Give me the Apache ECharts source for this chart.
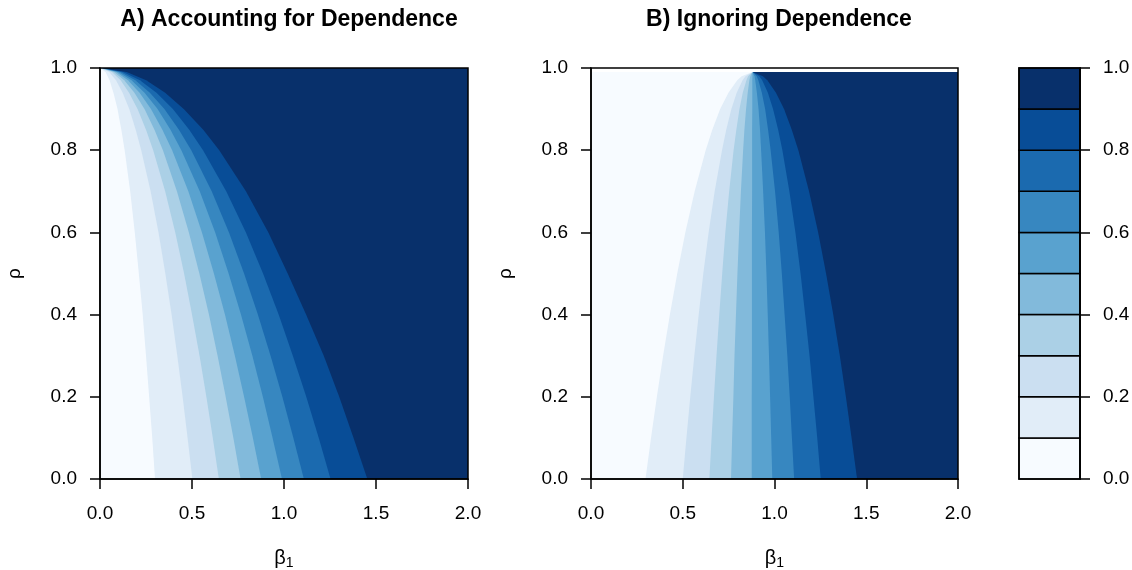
<!DOCTYPE html>
<html>
<head>
<meta charset="utf-8">
<script src="https://cdn.jsdelivr.net/npm/echarts@6/dist/echarts.min.js"></script>
<style>
  html, body { margin: 0; padding: 0; background: #fff; }
  #chart { width: 1132px; height: 570px; }
</style>
</head>
<body>
<div id="chart"></div>
<script>
// colour key breaks and colours (Blues, 10 bands)
const levels = [0.0, 0.1, 0.2, 0.3, 0.4, 0.5, 0.6, 0.7, 0.8, 0.9, 1.0];
const blues = ['#F7FBFF', '#E1EDF8', '#CBDFF1', '#ABD0E6', '#82BADB', '#59A2CF', '#3787C0', '#1B6AAF', '#084D97', '#08306B'];
const xTicks = [0.0, 0.5, 1.0, 1.5, 2.0];
const yTicks = [0.0, 0.2, 0.4, 0.6, 0.8, 1.0];
const titles = ['A) Accounting for Dependence', 'B) Ignoring Dependence'];

// panel A: beta1 where the surface crosses 0.1 ... 0.9, read at each rho
const rhoA = [0, 0.1, 0.2, 0.3, 0.4, 0.5, 0.6, 0.7, 0.8, 0.85, 0.9, 0.94, 0.97, 0.99, 1.0];
const contourA = [
  [0.299, 0.284, 0.267, 0.250, 0.232, 0.211, 0.189, 0.164, 0.134, 0.116, 0.095, 0.073, 0.052, 0.030, 0],
  [0.502, 0.476, 0.449, 0.420, 0.389, 0.355, 0.318, 0.275, 0.224, 0.194, 0.159, 0.123, 0.087, 0.050, 0],
  [0.646, 0.613, 0.578, 0.541, 0.500, 0.457, 0.409, 0.354, 0.289, 0.250, 0.204, 0.158, 0.112, 0.065, 0],
  [0.764, 0.725, 0.683, 0.639, 0.592, 0.540, 0.483, 0.418, 0.342, 0.296, 0.242, 0.187, 0.132, 0.076, 0],
  [0.876, 0.831, 0.783, 0.733, 0.679, 0.619, 0.554, 0.480, 0.392, 0.339, 0.277, 0.215, 0.152, 0.088, 0],
  [0.989, 0.938, 0.885, 0.828, 0.766, 0.699, 0.626, 0.542, 0.442, 0.383, 0.313, 0.242, 0.171, 0.099, 0],
  [1.108, 1.051, 0.991, 0.927, 0.858, 0.783, 0.701, 0.607, 0.496, 0.429, 0.350, 0.271, 0.192, 0.111, 0],
  [1.253, 1.189, 1.121, 1.048, 0.971, 0.886, 0.793, 0.686, 0.560, 0.485, 0.396, 0.307, 0.217, 0.125, 0],
  [1.453, 1.378, 1.300, 1.216, 1.120, 1.020, 0.915, 0.793, 0.648, 0.561, 0.455, 0.354, 0.251, 0.145, 0]
];

// panel B: same levels, curves meet near (0.88, 0.99)
const rhoB = [0, 0.1, 0.2, 0.3, 0.4, 0.5, 0.6, 0.7, 0.8, 0.85, 0.9, 0.94, 0.97, 0.98, 0.99];
const contourB = [
  [0.297, 0.327, 0.359, 0.393, 0.430, 0.470, 0.514, 0.565, 0.625, 0.661, 0.704, 0.749, 0.797, 0.821, 0.88],
  [0.500, 0.520, 0.541, 0.563, 0.587, 0.612, 0.641, 0.674, 0.714, 0.737, 0.765, 0.794, 0.826, 0.842, 0.88],
  [0.645, 0.657, 0.670, 0.684, 0.699, 0.715, 0.732, 0.753, 0.777, 0.792, 0.809, 0.827, 0.847, 0.856, 0.88],
  [0.763, 0.769, 0.776, 0.782, 0.790, 0.798, 0.807, 0.817, 0.829, 0.836, 0.845, 0.854, 0.863, 0.868, 0.88],
  [0.876, 0.876, 0.876, 0.877, 0.877, 0.877, 0.877, 0.878, 0.878, 0.878, 0.879, 0.879, 0.879, 0.880, 0.88],
  [0.988, 0.982, 0.976, 0.970, 0.963, 0.956, 0.948, 0.938, 0.927, 0.921, 0.913, 0.904, 0.895, 0.891, 0.88],
  [1.107, 1.095, 1.083, 1.070, 1.055, 1.040, 1.023, 1.003, 0.979, 0.965, 0.949, 0.931, 0.912, 0.903, 0.88],
  [1.252, 1.233, 1.212, 1.191, 1.167, 1.142, 1.114, 1.081, 1.043, 1.020, 0.992, 0.964, 0.933, 0.917, 0.88],
  [1.450, 1.420, 1.389, 1.356, 1.320, 1.281, 1.238, 1.188, 1.130, 1.094, 1.052, 1.008, 0.961, 0.937, 0.88]
];

const FONT = '"Liberation Sans", Arial, sans-serif';
const X_MIN = xTicks[0], X_MAX = xTicks[xTicks.length - 1];
const LINE = { color: '#000', width: 1.5 };

// filled contours, painted darkest first, then each level's "below" region on top
function contourSeries(idx, rho, contour) {
  const top = rho[rho.length - 1];
  const order = [9, 8, 7, 6, 5, 4, 3, 2, 1, 0];
  return {
    type: 'custom',
    xAxisIndex: idx,
    yAxisIndex: idx,
    silent: true,
    clip: true,
    data: order.map(b => [b, 0]),
    renderItem: (params, api) => {
      const band = order[params.dataIndex];
      let pts;
      if (band === 9) {
        pts = [[X_MIN, 0], [X_MAX, 0], [X_MAX, top], [X_MIN, top]];
      } else {
        const line = contour[band];
        pts = [[X_MIN, 0]].concat(line.map((b, i) => [b, rho[i]]), [[X_MIN, top]]);
      }
      return {
        type: 'polygon',
        z2: params.dataIndex,
        shape: { points: pts.map(p => api.coord(p)) },
        style: { fill: blues[band], stroke: null }
      };
    }
  };
}

function tickLabel(margin) {
  return { color: '#000', fontSize: 19, fontFamily: FONT, margin: margin, formatter: v => v.toFixed(1) };
}

function valueAxis(extra) {
  return Object.assign({
    type: 'value',
    axisLine: { show: true, onZero: false, lineStyle: LINE },
    axisTick: { show: true, length: 10, lineStyle: LINE },
    splitLine: { show: false },
    z: 10
  }, extra);
}

const grids = [
  { left: 100, top: 68, width: 368, height: 411 },
  { left: 591, top: 68, width: 367, height: 411 },
  { left: 1019, top: 68, width: 61, height: 411 }
].map(g => Object.assign(g, {
  show: true, borderColor: '#000', borderWidth: 1.5, backgroundColor: 'transparent', z: 10,
  containLabel: false, outerBoundsMode: 'none'
}));

const xName = {
  name: '{b|β}{s|1}',
  nameLocation: 'middle',
  nameGap: 67,
  nameTextStyle: {
    color: '#000',
    rich: {
      b: { fontSize: 20, fontFamily: FONT, color: '#000' },
      s: { fontSize: 14, fontFamily: FONT, color: '#000', padding: [10, 0, 0, 0] }
    }
  }
};
const yName = {
  name: 'ρ',
  nameLocation: 'middle',
  nameRotate: 90,
  nameGap: 76,
  nameTextStyle: { color: '#000', fontSize: 19, fontFamily: FONT }
};

const option = {
  animation: false,
  backgroundColor: '#fff',
  title: titles.map((t, i) => ({
    text: t,
    left: i === 0 ? 284 : 774,
    textAlign: 'center',
    top: 3,
    textStyle: { fontSize: 23, fontWeight: 'bold', fontFamily: FONT, color: '#000' }
  })),
  grid: grids,
  xAxis: [
    valueAxis(Object.assign({ gridIndex: 0, min: 0, max: 2, interval: 0.5, axisLabel: tickLabel(25) }, xName)),
    valueAxis(Object.assign({ gridIndex: 1, min: 0, max: 2, interval: 0.5, axisLabel: tickLabel(25) }, xName)),
    { type: 'value', gridIndex: 2, min: 0, max: 1, show: false }
  ],
  yAxis: [
    valueAxis(Object.assign({ gridIndex: 0, min: 0, max: 1, interval: 0.2, axisLabel: tickLabel(23) }, yName)),
    valueAxis(Object.assign({ gridIndex: 1, min: 0, max: 1, interval: 0.2, axisLabel: tickLabel(23) }, yName)),
    valueAxis({ gridIndex: 2, min: 0, max: 1, interval: 0.2, position: 'right', axisLabel: tickLabel(23) })
  ],
  series: [
    contourSeries(0, rhoA, contourA),
    contourSeries(1, rhoB, contourB),
    {
      type: 'custom',
      xAxisIndex: 2,
      yAxisIndex: 2,
      silent: true,
      data: blues.map((c, i) => [levels[i], levels[i + 1]]),
      renderItem: (params, api) => {
        const lo = api.coord([0, api.value(0)]);
        const hi = api.coord([1, api.value(1)]);
        return {
          type: 'rect',
          shape: { x: lo[0], y: hi[1], width: hi[0] - lo[0], height: lo[1] - hi[1] },
          style: { fill: blues[params.dataIndex], stroke: '#000', lineWidth: 1.5 }
        };
      },
      encode: { x: -1, y: [0, 1] }
    }
  ]
};

const chart = echarts.init(document.getElementById('chart'));
chart.setOption(option);
</script>
</body>
</html>
